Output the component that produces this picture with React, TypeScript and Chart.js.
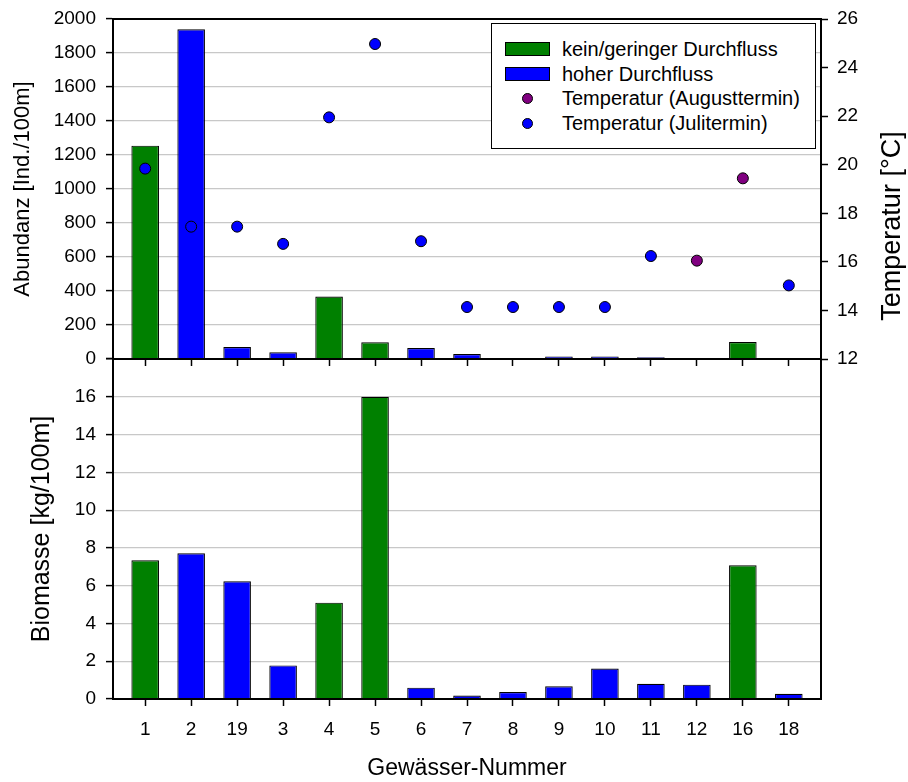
import React, { useEffect, useRef } from 'react';
import { Chart, registerables } from 'chart.js';

Chart.register(...registerables);

// ---------- data ----------
const categories = ['1', '2', '19', '3', '4', '5', '6', '7', '8', '9', '10', '11', '12', '16', '18'];
const flowType = ['low', 'high', 'high', 'high', 'low', 'low', 'high', 'high', 'high', 'high', 'high', 'high', 'high', 'low', 'high'];
const abundance = [1255, 1940, 70, 39, 367, 98, 65, 29, null, 14, 15, 10, 6, 100, null];
const biomass = [7.34, 7.71, 6.23, 1.78, 5.1, 16.0, 0.6, 0.18, 0.37, 0.67, 1.61, 0.81, 0.76, 7.08, 0.28];
const tempJuli = [19.84, 17.45, 17.45, 16.74, 21.95, 24.97, 16.85, 14.14, 14.14, 14.14, 14.14, 16.24, null, null, 15.03];
const tempAugust = [null, null, null, null, null, null, null, null, null, null, null, null, 16.05, 19.44, null];
const legendLabels = ['kein/geringer Durchfluss', 'hoher Durchfluss', 'Temperatur (Augusttermin)', 'Temperatur (Julitermin)'];
const abundanceAxis = { min: 0, max: 2000, step: 200 };
const temperatureAxis = { min: 12, max: 26, step: 2 };
const biomassAxis = { min: 0, max: 18, step: 2, hiddenLabels: [18] };

// ---------- style ----------
const GREEN = '#008000';
const BLUE = '#0000ff';
const PURPLE = '#800080';
const FONT = '"Liberation Sans", Arial, sans-serif';
const GRID = '#c8c8c8';

const barColors = flowType.map((f) => (f === 'low' ? GREEN : BLUE));
const toXY = (arr: (number | null)[]) => arr.map((v, i) => ({ x: i, y: v }));

const framePlugin = {
  id: 'frame',
  afterDraw(chart: any) {
    const { ctx, chartArea: a } = chart;
    ctx.save();
    ctx.strokeStyle = '#000';
    ctx.lineWidth = 2;
    ctx.strokeRect(a.left, a.top, a.right - a.left, a.bottom - a.top);
    ctx.restore();
  },
};

const rightTitlePlugin = {
  id: 'rightTitle',
  afterDraw(chart: any) {
    const { ctx } = chart;
    ctx.save();
    ctx.translate(chart.width - 15, 226);
    ctx.rotate(-Math.PI / 2);
    ctx.font = `27px ${FONT}`;
    ctx.fillStyle = '#000';
    ctx.textAlign = 'center';
    ctx.textBaseline = 'middle';
    ctx.fillText('Temperatur [°C]', 0, 0);
    ctx.restore();
  },
};

const xTicks = (scale: any) => {
  scale.ticks = categories.map((_, i) => ({ value: i }));
};

const fixWidth = (w: number) => (s: any) => {
  s.width = w;
  s.paddingTop = 0;
  s.paddingBottom = 0;
};
const fixHeight = (h: number) => (s: any) => {
  s.height = h;
  s.paddingLeft = 0;
  s.paddingRight = 0;
};

const tickFont = { family: FONT, size: 19 };
const plainNum = (v: any) => String(v);

export default function App() {
  const topRef = useRef<HTMLCanvasElement>(null);
  const botRef = useRef<HTMLCanvasElement>(null);

  useEffect(() => {
    const top = new Chart(topRef.current!, {
      type: 'bar',
      data: {
        datasets: [
          {
            type: 'scatter',
            label: legendLabels[2],
            data: toXY(tempAugust),
            yAxisID: 'yT',
            backgroundColor: PURPLE,
            borderColor: '#000',
            borderWidth: 1,
            pointRadius: 5.5,
            order: 0,
          } as any,
          {
            type: 'scatter',
            label: legendLabels[3],
            data: toXY(tempJuli),
            yAxisID: 'yT',
            backgroundColor: BLUE,
            borderColor: '#000',
            borderWidth: 1,
            pointRadius: 5.5,
            order: 0,
          } as any,
          {
            type: 'bar',
            label: 'Abundanz',
            data: toXY(abundance),
            yAxisID: 'y',
            backgroundColor: barColors,
            borderColor: '#000',
            borderWidth: 1.2,
            barPercentage: 0.6,
            categoryPercentage: 1,
            order: 2,
          } as any,
        ],
      },
      options: {
        animation: false,
        responsive: false,
        events: [],
        layout: { autoPadding: false, padding: { top: 19, left: 0, right: 0, bottom: 0 } },
        plugins: { legend: { display: false }, tooltip: { enabled: false } },
        scales: {
          x: {
            type: 'linear',
            offset: false,
            min: -0.7,
            max: 14.7,
            afterBuildTicks: xTicks,
            afterFit: fixHeight(13),
            ticks: { display: false },
            grid: { offset: false, drawOnChartArea: false, tickLength: 7, tickColor: '#000', tickWidth: 1.5 },
            border: { color: '#000', width: 2 },
          },
          y: {
            position: 'left',
            min: abundanceAxis.min,
            max: abundanceAxis.max,
            afterFit: fixWidth(113),
            ticks: { stepSize: abundanceAxis.step, font: tickFont, color: '#000', padding: 10, callback: plainNum },
            grid: { color: GRID, lineWidth: 1.2, tickLength: 7, tickColor: '#000', tickWidth: 1.5 },
            border: { color: '#000', width: 2 },
            title: { display: true, text: 'Abundanz [Ind./100m]', font: { family: FONT, size: 22 }, color: '#000', padding: { top: 10, bottom: 0 } },
          },
          yT: {
            position: 'right',
            min: temperatureAxis.min,
            max: temperatureAxis.max,
            afterFit: fixWidth(87),
            ticks: { stepSize: temperatureAxis.step, font: tickFont, color: '#000', padding: 9, callback: plainNum },
            grid: { drawOnChartArea: false, tickLength: 7, tickColor: '#000', tickWidth: 1.5 },
            border: { color: '#000', width: 2 },
          },
        },
      } as any,
      plugins: [framePlugin, rightTitlePlugin],
    });

    const bot = new Chart(botRef.current!, {
      type: 'bar',
      data: {
        datasets: [
          {
            label: 'Biomasse',
            data: toXY(biomass),
            backgroundColor: barColors,
            borderColor: '#000',
            borderWidth: 1.2,
            barPercentage: 0.6,
            categoryPercentage: 1,
          } as any,
        ],
      },
      options: {
        animation: false,
        responsive: false,
        events: [],
        layout: { autoPadding: false, padding: { top: 19, left: 19, right: 87, bottom: 0 } },
        plugins: { legend: { display: false }, tooltip: { enabled: false } },
        scales: {
          x: {
            type: 'linear',
            offset: false,
            min: -0.7,
            max: 14.7,
            afterBuildTicks: xTicks,
            afterFit: fixHeight(83),
            ticks: { font: tickFont, color: '#000', padding: 12, callback: (v: any) => categories[v] ?? '' },
            grid: { offset: false, drawOnChartArea: false, tickLength: 7, tickColor: '#000', tickWidth: 1.5 },
            border: { color: '#000', width: 2 },
            title: { display: true, text: 'Gewässer-Nummer', font: { family: FONT, size: 23 }, color: '#000', padding: { top: 0, bottom: 0 } },
          },
          y: {
            min: biomassAxis.min,
            max: biomassAxis.max,
            afterFit: fixWidth(94),
            ticks: {
              stepSize: biomassAxis.step,
              font: tickFont,
              color: '#000',
              padding: 10,
              callback: (v: any) => (biomassAxis.hiddenLabels.includes(v) ? '' : String(v)),
            },
            grid: { color: GRID, lineWidth: 1.2, tickLength: 7, tickColor: '#000', tickWidth: 1.5 },
            border: { color: '#000', width: 2 },
            title: { display: true, text: 'Biomasse [kg/100m]', font: { family: FONT, size: 25 }, color: '#000', padding: { top: 8, bottom: 0 } },
          },
        },
      } as any,
      plugins: [framePlugin],
    });

    return () => {
      top.destroy();
      bot.destroy();
    };
  }, []);

  const legendItems = [
    { label: legendLabels[0], kind: 'bar', color: GREEN },
    { label: legendLabels[1], kind: 'bar', color: BLUE },
    { label: legendLabels[2], kind: 'dot', color: PURPLE },
    { label: legendLabels[3], kind: 'dot', color: BLUE },
  ];

  return (
    <div style={{ position: 'absolute', left: 0, top: 0, width: 908, height: 782, background: '#fff' }}>
      <canvas ref={topRef} width={908} height={372} style={{ position: 'absolute', left: 0, top: 0, width: 908, height: 372 }} />
      <canvas ref={botRef} width={908} height={442} style={{ position: 'absolute', left: 0, top: 340, width: 908, height: 442 }} />
      <div
        style={{
          position: 'absolute',
          left: 491,
          top: 23,
          width: 325,
          height: 126,
          boxSizing: 'border-box',
          border: '1.5px solid #000',
          background: '#fff',
          fontFamily: FONT,
          fontSize: 20,
          color: '#000',
        }}
      >
        {legendItems.map((it, i) => {
          const cy = 25 + i * 24.7;
          return (
            <div key={i} style={{ position: 'absolute', left: 0, top: cy - 12, height: 24, width: '100%' }}>
              {it.kind === 'bar' ? (
                <span
                  style={{
                    position: 'absolute',
                    left: 13,
                    top: 5,
                    width: 45,
                    height: 14,
                    boxSizing: 'border-box',
                    background: it.color,
                    border: '1px solid #000',
                  }}
                />
              ) : (
                <span
                  style={{
                    position: 'absolute',
                    left: 30,
                    top: 6.5,
                    width: 11,
                    height: 11,
                    boxSizing: 'border-box',
                    borderRadius: '50%',
                    background: it.color,
                    border: '1px solid #000',
                  }}
                />
              )}
              <span style={{ position: 'absolute', left: 70, top: 0, lineHeight: '24px', whiteSpace: 'nowrap' }}>{it.label}</span>
            </div>
          );
        })}
      </div>
    </div>
  );
}
